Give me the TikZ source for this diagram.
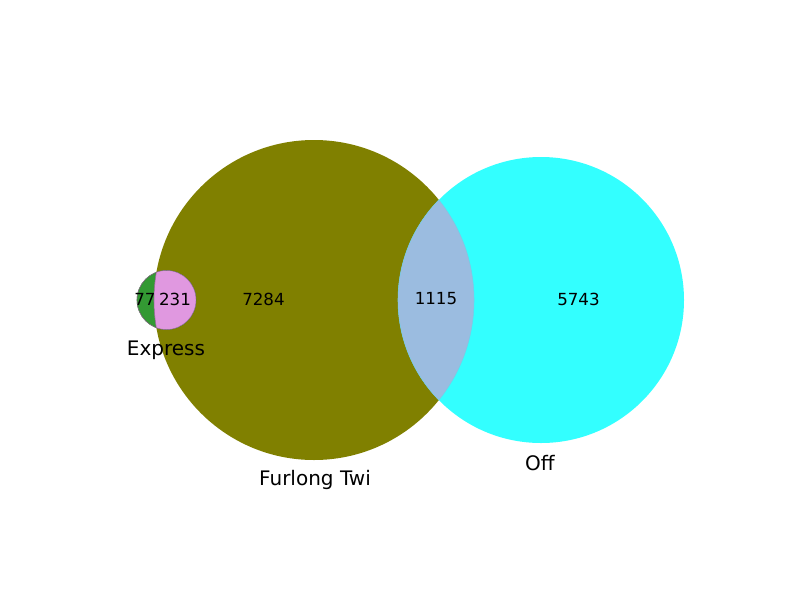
\documentclass[tikz,border=0pt]{standalone}
\usepackage{fontspec}
\setmainfont{DejaVu Sans}
\definecolor{cOlive}{RGB}{128,128,0}
\definecolor{cCyan}{RGB}{51,255,255}
\definecolor{cGreen}{RGB}{51,153,51}
\definecolor{cPink}{RGB}{224,152,224}
\definecolor{cBlue}{RGB}{155,188,224}
\tikzset{
  num/.style={font=\fontsize{12}{14}\selectfont, inner sep=0pt},
  setlabel/.style={font=\fontsize{14.4}{17}\selectfont, inner sep=0pt}
}
\begin{document}
\begin{tikzpicture}[x=0.72pt,y=-0.72pt]
\useasboundingbox (0,0) rectangle (800,600);
% circles
\fill[cOlive] (314,300) circle[radius=160];
\fill[cCyan] (541,300) circle[radius=143];
\fill[cGreen] (166.5,300) circle[radius=29.5];
\draw[cGreen!80!black, line width=0.4pt] (166.5,300) circle[radius=29.5];
% Express & Furlong
\begin{scope}
  \clip (166.5,300) circle[radius=29.5];
  \fill[cPink] (314,300) circle[radius=160];
  \draw[cPink!70!black, line width=0.4pt] (314,300) circle[radius=160];
\end{scope}
\draw[cPink!70!black, line width=0.3pt] (166.5,300) circle[radius=29.5];
% Furlong & Off
\begin{scope}
  \clip (314,300) circle[radius=160];
  \fill[cBlue] (541,300) circle[radius=143];
  \draw[cBlue!80!cyan, line width=0.4pt] (541,300) circle[radius=143];
\end{scope}
\begin{scope}
  \clip (541,300) circle[radius=143];
  \draw[cBlue!80!cyan, line width=0.4pt] (314,300) circle[radius=160];
\end{scope}
% numbers
\node[num] (n77) at (145,299) {77};
\node[num] (n231) at (175,299) {231};
\node[num] (n7284) at (263.5,299) {7284};
\node[num] (n1115) at (436,299) {1115};
\node[num] (n5743) at (578.5,299) {5743};
% labels
\node[setlabel] (lE) at (166,350) {Express};
\node[setlabel] (lF) at (315,480) {Furlong Twi};
\node[setlabel] (lO) at (540,463) {Off};
\end{tikzpicture}
\end{document}
